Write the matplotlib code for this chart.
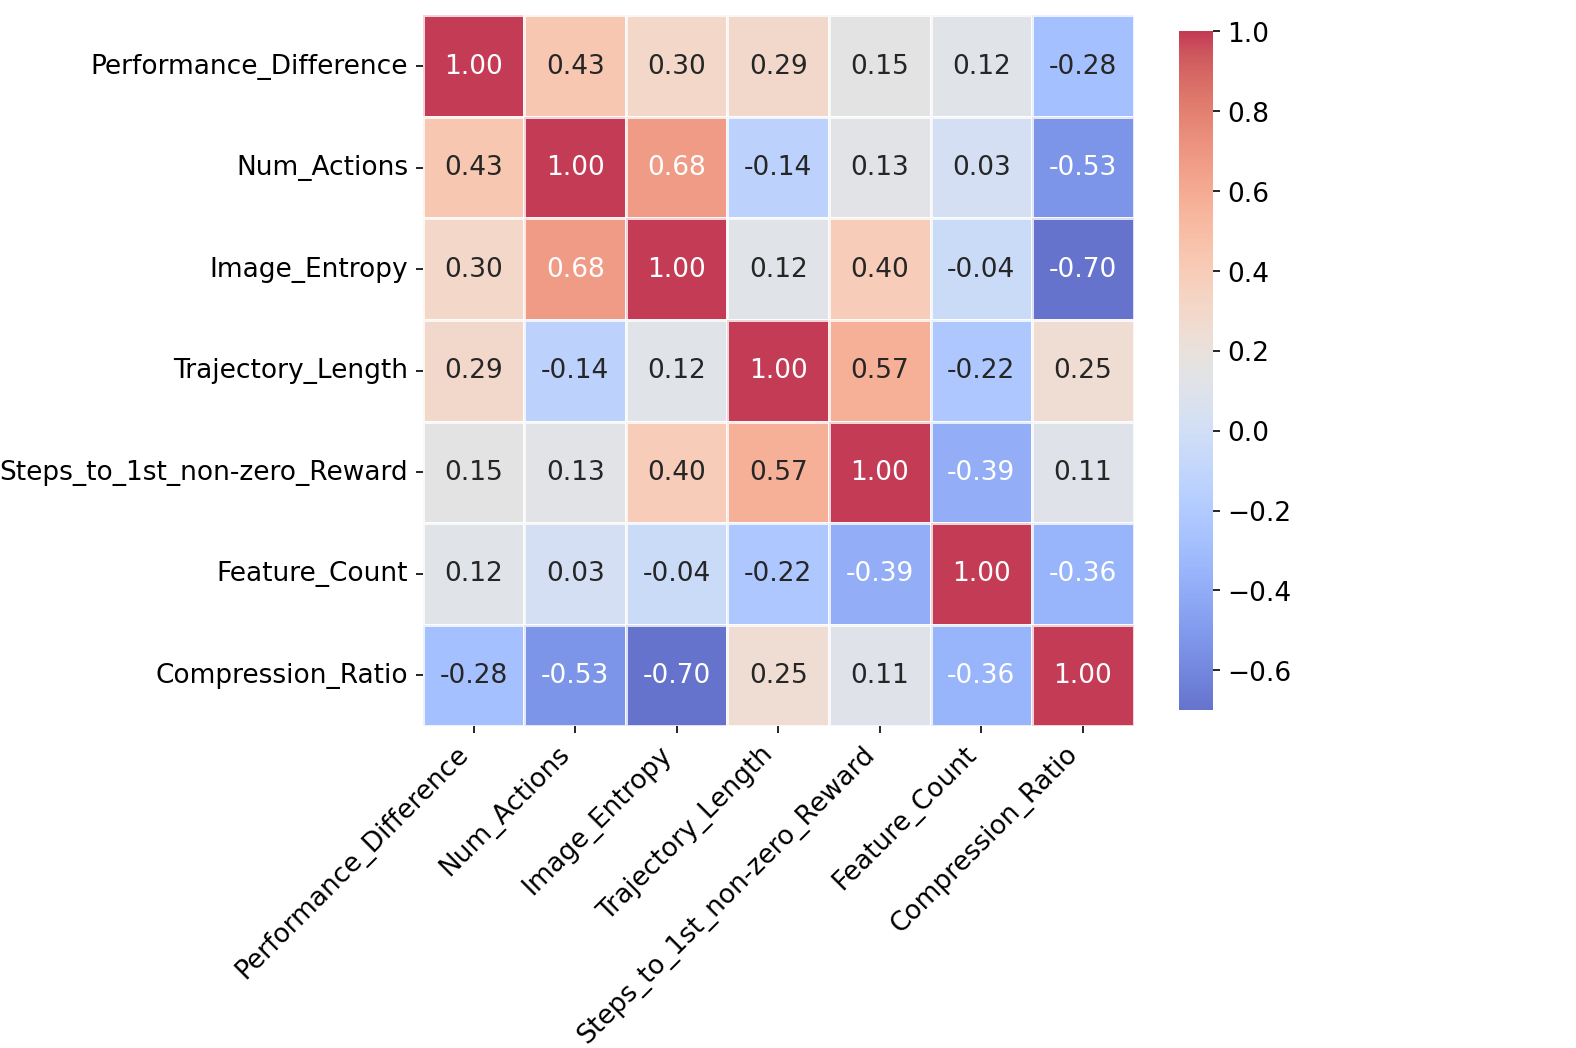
import numpy as np
import matplotlib
matplotlib.use('Agg')
import matplotlib.pyplot as plt
import seaborn as sns

labels = ['Performance_Difference', 'Num_Actions', 'Image_Entropy', 'Trajectory_Length',
          'Steps_to_1st_non-zero_Reward', 'Feature_Count', 'Compression_Ratio']

corr = np.array([
    [1.00, 0.43, 0.30, 0.29, 0.15, 0.12, -0.28],
    [0.43, 1.00, 0.68, -0.14, 0.13, 0.03, -0.53],
    [0.30, 0.68, 1.00, 0.12, 0.40, -0.04, -0.70],
    [0.29, -0.14, 0.12, 1.00, 0.57, -0.22, 0.25],
    [0.15, 0.13, 0.40, 0.57, 1.00, -0.39, 0.11],
    [0.12, 0.03, -0.04, -0.22, -0.39, 1.00, -0.36],
    [-0.28, -0.53, -0.70, 0.25, 0.11, -0.36, 1.00],
])

fs = 12.7
plt.rcParams['font.size'] = fs

fig = plt.figure(figsize=(10.51, 6.99), dpi=150)
ax = fig.add_axes([0.2682, 0.3070, 0.4509, 0.6778])
cax = fig.add_axes([0.7476, 0.3222, 0.0216, 0.6473])

sns.heatmap(corr, annot=True, fmt='.2f', cmap='coolwarm', alpha=0.78,
            linewidths=0.5, linecolor='white', xticklabels=labels, yticklabels=labels,
            ax=ax, cbar_ax=cax, annot_kws={'fontsize': fs})

ax.set_xticklabels(labels, rotation=45, ha='right', fontsize=fs)
ax.set_yticklabels(labels, rotation=0, fontsize=fs)
cax.tick_params(labelsize=fs)

fig.savefig('out.png', dpi=150)
